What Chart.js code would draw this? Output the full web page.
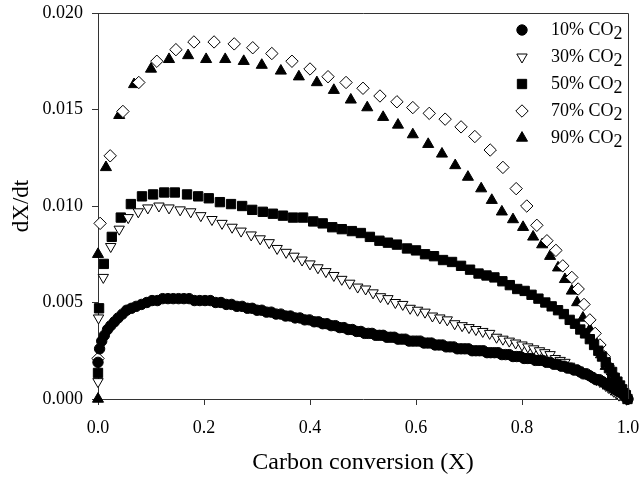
<!DOCTYPE html>
<html>
<head>
<meta charset="utf-8">
<script src="https://cdn.jsdelivr.net/npm/chart.js@4.4.1/dist/chart.umd.min.js"></script>
<style>
  html, body { margin: 0; padding: 0; background: #fff; }
  #chart { display: block; }
</style>
</head>
<body>
<canvas id="chart" width="639" height="478" style="width:639px;height:478px"></canvas>
<script>
// 10% CO2 (filled circles)
const x10 = [0.000, 0.003, 0.007, 0.012, 0.018, 0.024, 0.031, 0.038, 0.046, 0.054, 0.063, 0.072, 0.082, 0.092, 0.102, 0.112, 0.122, 0.132, 0.142, 0.152,
  0.162, 0.172, 0.182, 0.192, 0.202, 0.212, 0.222, 0.232, 0.242, 0.252, 0.262, 0.272, 0.282, 0.291, 0.300, 0.309, 0.318, 0.327, 0.336, 0.345,
  0.354, 0.363, 0.372, 0.381, 0.390, 0.399, 0.408, 0.416, 0.424, 0.432, 0.440, 0.448, 0.456, 0.464, 0.472, 0.480, 0.488, 0.496, 0.503, 0.510,
  0.517, 0.524, 0.531, 0.538, 0.545, 0.552, 0.559, 0.566, 0.573, 0.580, 0.587, 0.594, 0.601, 0.608, 0.615, 0.622, 0.629, 0.636, 0.643, 0.650,
  0.657, 0.664, 0.671, 0.678, 0.685, 0.692, 0.699, 0.706, 0.713, 0.720, 0.727, 0.734, 0.741, 0.748, 0.755, 0.762, 0.769, 0.776, 0.783, 0.790,
  0.797, 0.804, 0.811, 0.818, 0.825, 0.832, 0.839, 0.846, 0.853, 0.860, 0.867, 0.874, 0.880, 0.886, 0.892, 0.898, 0.904, 0.910, 0.916, 0.922,
  0.928, 0.934, 0.940, 0.946, 0.952, 0.958, 0.964, 0.970, 0.976, 0.982, 0.988, 0.993, 0.997, 1.000];
const y10 = [0.0019, 0.0026, 0.0030, 0.0033, 0.0036, 0.0038, 0.0040, 0.0042, 0.0044, 0.0046, 0.0047, 0.0048, 0.0049, 0.0050, 0.0051, 0.0051, 0.0052, 0.0052, 0.0052, 0.0052,
  0.0052, 0.0052, 0.0051, 0.0051, 0.0051, 0.0051, 0.0050, 0.0050, 0.0049, 0.0049, 0.0048, 0.0048, 0.0047, 0.0047, 0.0046, 0.0046, 0.0045, 0.0045, 0.0044, 0.0044,
  0.0043, 0.0043, 0.0042, 0.0042, 0.0041, 0.0041, 0.0040, 0.0040, 0.0039, 0.0039, 0.0038, 0.0038, 0.0037, 0.0037, 0.0036, 0.0036, 0.0035, 0.0035, 0.0034, 0.0034,
  0.0034, 0.0033, 0.0033, 0.0033, 0.0032, 0.0032, 0.0032, 0.0031, 0.0031, 0.0031, 0.0030, 0.0030, 0.0030, 0.0030, 0.0029, 0.0029, 0.0029, 0.0028, 0.0028, 0.0028,
  0.0027, 0.0027, 0.0027, 0.0026, 0.0026, 0.0026, 0.0026, 0.0025, 0.0025, 0.0025, 0.0025, 0.0024, 0.0024, 0.0024, 0.0024, 0.0023, 0.0023, 0.0023, 0.0022, 0.0022,
  0.0022, 0.0021, 0.0021, 0.0021, 0.0020, 0.0020, 0.0020, 0.0019, 0.0019, 0.0018, 0.0018, 0.0017, 0.0017, 0.0016, 0.0016, 0.0015, 0.0015, 0.0014, 0.0013, 0.0013,
  0.0012, 0.0011, 0.0010, 0.0010, 0.0009, 0.0008, 0.0007, 0.0006, 0.0005, 0.0004, 0.0003, 0.0002, 0.0001, 0.0000];

// 30% CO2 (open down triangles)
const x30 = [0.000, 0.001, 0.010, 0.024, 0.040, 0.057, 0.076, 0.094, 0.115, 0.134, 0.155, 0.175, 0.194, 0.215, 0.234, 0.253, 0.270, 0.289, 0.306, 0.323,
  0.338, 0.355, 0.370, 0.385, 0.400, 0.415, 0.430, 0.445, 0.460, 0.475, 0.490, 0.505, 0.519, 0.533, 0.547, 0.561, 0.575, 0.589, 0.603, 0.617,
  0.631, 0.645, 0.659, 0.673, 0.687, 0.700, 0.713, 0.726, 0.739, 0.752, 0.764, 0.776, 0.788, 0.800, 0.811, 0.822, 0.833, 0.843, 0.853, 0.863,
  0.872, 0.881, 0.890, 0.898, 0.906, 0.914, 0.921, 0.928, 0.935, 0.941, 0.947, 0.953, 0.958, 0.963, 0.968, 0.973, 0.978, 0.983, 0.988, 0.993, 0.997];
const y30 = [0.0009, 0.0042, 0.0063, 0.0079, 0.0088, 0.0094, 0.0097, 0.0099, 0.0100, 0.0099, 0.0098, 0.0097, 0.0095, 0.0093, 0.0091, 0.0089, 0.0087, 0.0085, 0.0083, 0.0081,
  0.0078, 0.0076, 0.0074, 0.0072, 0.0070, 0.0068, 0.0066, 0.0064, 0.0062, 0.0060, 0.0058, 0.0057, 0.0055, 0.0053, 0.0052, 0.0050, 0.0049, 0.0047, 0.0046, 0.0045,
  0.0043, 0.0042, 0.0041, 0.0039, 0.0038, 0.0037, 0.0036, 0.0035, 0.0034, 0.0032, 0.0031, 0.0030, 0.0029, 0.0028, 0.0027, 0.0026, 0.0025, 0.0024, 0.0023, 0.0021,
  0.0020, 0.0019, 0.0017, 0.0016, 0.0015, 0.0014, 0.0013, 0.0012, 0.0011, 0.0010, 0.0009, 0.0008, 0.0007, 0.0006, 0.0005, 0.0004, 0.0003, 0.0002, 0.0002, 0.0001, 0.0000];

// 50% CO2 (filled squares)
const x50 = [0.000, 0.002, 0.011, 0.026, 0.043, 0.062, 0.083, 0.104, 0.125, 0.145, 0.168, 0.189, 0.209, 0.230, 0.251, 0.272, 0.291, 0.311, 0.330, 0.349,
  0.368, 0.387, 0.406, 0.424, 0.442, 0.460, 0.479, 0.496, 0.513, 0.531, 0.547, 0.564, 0.583, 0.600, 0.617, 0.634, 0.651, 0.668, 0.685, 0.702,
  0.718, 0.733, 0.748, 0.763, 0.777, 0.791, 0.805, 0.818, 0.831, 0.844, 0.856, 0.868, 0.879, 0.890, 0.900, 0.910, 0.919, 0.928, 0.936, 0.944,
  0.951, 0.958, 0.964, 0.970, 0.975, 0.980, 0.985, 0.989, 0.993, 0.996, 0.999];
const y50 = [0.00135, 0.0047, 0.0070, 0.0084, 0.0094, 0.0101, 0.0105, 0.0106, 0.0107, 0.0107, 0.0106, 0.0105, 0.0104, 0.0102, 0.0101, 0.0100, 0.0098, 0.0097, 0.0096, 0.0095,
  0.0094, 0.0094, 0.0092, 0.0091, 0.0089, 0.0088, 0.0087, 0.0086, 0.0084, 0.0082, 0.0081, 0.0080, 0.0078, 0.0077, 0.0075, 0.0074, 0.0072, 0.0071, 0.0069, 0.0067,
  0.0065, 0.0064, 0.0063, 0.0061, 0.0059, 0.0057, 0.0056, 0.0054, 0.0052, 0.0050, 0.0048, 0.0046, 0.0044, 0.0041, 0.0039, 0.0036, 0.0034, 0.0031, 0.0028, 0.0025,
  0.0022, 0.0019, 0.0016, 0.0014, 0.0011, 0.0009, 0.0007, 0.0005, 0.0003, 0.0002, 0.0000];

// 70% CO2 (open diamonds)
const x70 = [0.000, 0.004, 0.023, 0.047, 0.077, 0.111, 0.147, 0.181, 0.219, 0.257, 0.292, 0.328, 0.366, 0.400, 0.434, 0.468, 0.500, 0.532, 0.564, 0.594,
  0.625, 0.655, 0.685, 0.711, 0.740, 0.764, 0.789, 0.809, 0.828, 0.847, 0.864, 0.877, 0.894, 0.906, 0.917, 0.928, 0.938, 0.947, 0.955, 0.963,
  0.970, 0.977, 0.983, 0.989, 0.994, 0.998];
const y70 = [0.0021, 0.0091, 0.0126, 0.0149, 0.0164, 0.0175, 0.0181, 0.0185, 0.0185, 0.0184, 0.0182, 0.0179, 0.0175, 0.0171, 0.0167, 0.0164, 0.0161, 0.0157, 0.0154, 0.0151,
  0.0148, 0.0145, 0.0141, 0.0136, 0.0129, 0.0120, 0.0109, 0.0100, 0.0090, 0.0082, 0.0077, 0.0069, 0.0063, 0.0057, 0.0049, 0.0041, 0.0034, 0.0028, 0.0022, 0.0017,
  0.0013, 0.0009, 0.0006, 0.0003, 0.0001, 0.0000];

// 90% CO2 (filled triangles)
const x90 = [0.000, 0.000, 0.015, 0.040, 0.068, 0.100, 0.134, 0.170, 0.204, 0.240, 0.275, 0.309, 0.345, 0.379, 0.413, 0.445, 0.477, 0.508, 0.538, 0.566,
  0.594, 0.623, 0.649, 0.674, 0.698, 0.723, 0.743, 0.762, 0.783, 0.802, 0.821, 0.838, 0.853, 0.868, 0.881, 0.894, 0.904, 0.915, 0.928, 0.940,
  0.949, 0.958, 0.968, 0.977, 0.987, 0.996];
const y90 = [0.0000, 0.0075, 0.0120, 0.0147, 0.0163, 0.0171, 0.0176, 0.0178, 0.0176, 0.0176, 0.0175, 0.0173, 0.0170, 0.0167, 0.0164, 0.0160, 0.0155, 0.0151, 0.0146, 0.0142,
  0.0137, 0.0132, 0.0127, 0.0121, 0.0115, 0.0109, 0.0103, 0.0097, 0.0093, 0.0089, 0.0084, 0.0080, 0.0074, 0.0068, 0.0062, 0.0056, 0.0050, 0.0042, 0.0036, 0.0029,
  0.0023, 0.0017, 0.0011, 0.0006, 0.0003, 0.0001];

const seriesLabels = ['10% CO2', '30% CO2', '50% CO2', '70% CO2', '90% CO2'];
const xTicks = [0, 0.2, 0.4, 0.6, 0.8, 1.0];
const yTicks = [0, 0.005, 0.010, 0.015, 0.020];

const serif = "'Liberation Serif', 'Times New Roman', serif";
const ink = '#000';
const frame = '#333';

function pts(xs, ys) {
    return xs.map(function(x, i) { return { x: x, y: ys[i] }; });
}

const styles = [
    { pointStyle: 'circle', radius: 5.2, fill: ink, rotation: 0 },
    { pointStyle: 'triangle', radius: 6.0, fill: '#fff', rotation: 180 },
    { pointStyle: 'rect', radius: 6.6, fill: ink, rotation: 0 },
    { pointStyle: 'rectRot', radius: 6.2, fill: '#fff', rotation: 0 },
    { pointStyle: 'triangle', radius: 6.4, fill: ink, rotation: 0 }
];
const xsAll = [x10, x30, x50, x70, x90];
const ysAll = [y10, y30, y50, y70, y90];

const datasets = seriesLabels.map(function(label, i) {
    const s = styles[i];
    return {
        label: label,
        data: pts(xsAll[i], ysAll[i]),
        pointStyle: s.pointStyle,
        pointRadius: s.radius,
        pointRotation: s.rotation,
        pointBackgroundColor: s.fill,
        pointBorderColor: ink,
        pointBorderWidth: 1,
        showLine: false,
        clip: 12
    };
});

// frame on top and right + legend with subscript 2
const framePlugin = {
    id: 'framePlugin',
    afterDraw: function(chart) {
        const ctx = chart.ctx;
        const a = chart.chartArea;
        ctx.save();
        ctx.strokeStyle = frame;
        ctx.lineWidth = 1;
        ctx.beginPath();
        ctx.moveTo(a.left, a.top + 0.5);
        ctx.lineTo(a.right + 0.5, a.top + 0.5);
        ctx.lineTo(a.right + 0.5, a.bottom);
        ctx.stroke();

        const lx = 522, tx = 551, y0 = 30, dy = 27;
        chart.data.datasets.forEach(function(ds, i) {
            const y = y0 + i * dy;
            ctx.fillStyle = ds.pointBackgroundColor;
            ctx.strokeStyle = ink;
            ctx.lineWidth = 1;
            Chart.helpers.drawPoint(ctx, {
                pointStyle: ds.pointStyle,
                rotation: ds.pointRotation,
                radius: ds.pointRadius,
                borderWidth: 1
            }, lx, y);
            const main = ds.label.slice(0, -1);
            const sub = ds.label.slice(-1);
            ctx.fillStyle = ink;
            ctx.font = '18px ' + serif;
            ctx.textBaseline = 'middle';
            ctx.textAlign = 'left';
            ctx.fillText(main, tx, y);
            const w = ctx.measureText(main).width;
            ctx.fillText(sub, tx + w, y + 4);
        });
        ctx.restore();
    }
};

new Chart(document.getElementById('chart').getContext('2d'), {
    type: 'scatter',
    data: { datasets: datasets },
    options: {
        responsive: false,
        animation: false,
        layout: { padding: { left: 0, right: 11, top: 13, bottom: 0 } },
        plugins: {
            legend: { display: false },
            tooltip: { enabled: false }
        },
        scales: {
            x: {
                type: 'linear',
                min: 0,
                max: 1,
                afterFit: function(s) { s.height = 79; s.paddingLeft = 0; s.paddingRight = 0; },
                afterBuildTicks: function(s) { s.ticks = xTicks.map(function(v) { return { value: v }; }); },
                grid: { display: true, drawOnChartArea: false, drawTicks: true, tickLength: 6, color: frame },
                border: { display: true, color: frame, width: 1 },
                ticks: {
                    color: ink,
                    padding: 12,
                    maxRotation: 0,
                    font: { family: serif, size: 18 },
                    callback: function(v) { return Number(v).toFixed(1); }
                },
                title: {
                    display: true,
                    text: 'Carbon conversion (X)',
                    color: ink,
                    font: { family: serif, size: 24 },
                    padding: { top: 0, bottom: 1 }
                }
            },
            y: {
                type: 'linear',
                min: 0,
                max: 0.02,
                afterFit: function(s) { s.width = 98; s.paddingTop = 0; s.paddingBottom = 0; },
                afterBuildTicks: function(s) { s.ticks = yTicks.map(function(v) { return { value: v }; }); },
                grid: { display: true, drawOnChartArea: false, drawTicks: true, tickLength: 6, color: frame },
                border: { display: true, color: frame, width: 1 },
                ticks: {
                    color: ink,
                    padding: 9,
                    font: { family: serif, size: 18 },
                    callback: function(v) { return Number(v).toFixed(3); }
                },
                title: {
                    display: true,
                    text: 'dX/dt',
                    color: ink,
                    font: { family: serif, size: 23 },
                    padding: { top: 8, bottom: 0 }
                }
            }
        }
    },
    plugins: [framePlugin]
});
</script>
</body>
</html>
